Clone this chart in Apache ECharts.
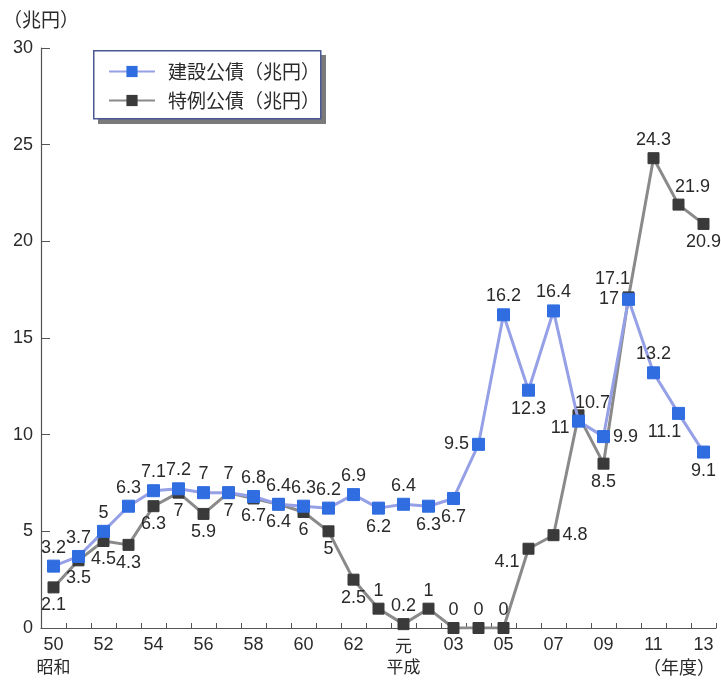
<!DOCTYPE html>
<html>
<head>
<meta charset="utf-8">
<script src="https://cdn.jsdelivr.net/npm/echarts@6/dist/echarts.min.js"></script>
<style>
  html, body { margin: 0; padding: 0; background: #fff; }
  #chart { width: 721px; height: 681px; }
</style>
</head>
<body>
<div id="chart"></div>
<script>
// Fiscal years: Showa 50 through Heisei 13
const years = ['50','51','52','53','54','55','56','57','58','59','60','61','62','63',
               '元','02','03','04','05','06','07','08','09','10','11','12','13'];

// Construction bonds (trillion yen)
const constructionBonds = [3.2, 3.7, 5, 6.3, 7.1, 7.2, 7, 7, 6.8, 6.4, 6.3, 6.2, 6.9, 6.2,
                           6.4, 6.3, 6.7, 9.5, 16.2, 12.3, 16.4, 10.7, 9.9, 17, 13.2, 11.1, 9.1];

// Special deficit-financing bonds (trillion yen)
const specialBonds = [2.1, 3.5, 4.5, 4.3, 6.3, 7, 5.9, 7, 6.7, 6.4, 6, 5, 2.5, 1,
                      0.2, 1, 0, 0, 0, 4.1, 4.8, 11, 8.5, 17.1, 24.3, 21.9, 20.9];

const yTicks = { min: 0, max: 30, step: 5 };

// Label placement for each point
const constructionLabelPos = ['top','top','top','top','top','top','top','top','top','top','top','top','top','bottom',
  'top','bottom','bottom','left','top','bottom','top','topRight','right','left','top','bottomLeft','bottom'];
const specialLabelPos = ['bottom','bottom','bottom','bottom','bottom','bottom','bottom','bottom','bottom','bottom','bottom','bottom','bottom','top',
  'top','top','top','top','top','leftBottom','right','leftBottom','bottom','topLeft','top','topRight','bottom'];

const numFont = '"Liberation Sans", Arial, sans-serif';
const textFont = '"Noto Sans CJK JP", "Noto Sans", sans-serif';

function labelFor(pos) {
  const base = { show: true, fontSize: 18, color: '#2a2a2a', fontFamily: numFont, distance: 3 };
  switch (pos) {
    case 'topRight': return Object.assign(base, { position: 'top', offset: [14, 0] });
    case 'topLeft': return Object.assign(base, { position: 'top', offset: [-16, 0] });
    case 'bottomLeft': return Object.assign(base, { position: 'bottom', offset: [-14, 0] });
    case 'leftBottom': return Object.assign(base, { position: 'left', offset: [0, 13] });
    default: return Object.assign(base, { position: pos });
  }
}

function buildData(values, positions) {
  return values.map((v, i) => ({ value: v, label: labelFor(positions[i]) }));
}

const chart = echarts.init(document.getElementById('chart'), null, { renderer: 'canvas' });

chart.setOption({
  animation: false,
  backgroundColor: '#ffffff',
  grid: { left: 41, right: 5, top: 48, bottom: 53, containLabel: false, outerBoundsMode: 'none' },
  legend: {
    orient: 'vertical',
    left: 108,
    top: 62,
    padding: 0,
    itemGap: 10,
    itemWidth: 46,
    itemHeight: 14,
    z: 10,
    textStyle: { fontSize: 19, color: '#2a2a2a', fontFamily: textFont, padding: [0, 0, 0, 8] },
    data: ['建設公債（兆円）', '特例公債（兆円）']
  },
  xAxis: {
    type: 'category',
    data: years,
    boundaryGap: true,
    axisLine: { lineStyle: { color: '#555', width: 1.2 } },
    axisTick: { show: true, inside: true, length: 5, interval: 0, lineStyle: { color: '#555' } },
    axisLabel: {
      interval: 1,
      fontSize: 18,
      color: '#2a2a2a',
      fontFamily: numFont,
      margin: 7,
      formatter: function (v) {
        if (v === '50') return '50\n{era|昭和}';
        if (v === '元') return '{era|元}\n{era|平成}';
        return v;
      },
      rich: { era: { fontSize: 17, fontFamily: textFont, color: '#2a2a2a', lineHeight: 21 } },
      lineHeight: 21
    },
    splitLine: { show: false }
  },
  yAxis: {
    type: 'value',
    min: yTicks.min,
    max: yTicks.max,
    interval: yTicks.step,
    axisLine: { show: true, lineStyle: { color: '#555', width: 1.2 } },
    axisTick: { show: true, inside: true, length: 9, lineStyle: { color: '#555' } },
    axisLabel: { fontSize: 18, color: '#2a2a2a', fontFamily: numFont, margin: 8 },
    splitLine: { show: false }
  },
  graphic: [
    // legend frame with drop shadow
    {
      type: 'rect', left: 98, top: 55, z: 5,
      shape: { width: 228, height: 69 },
      style: { fill: '#7a7a7a' }
    },
    {
      type: 'rect', left: 93, top: 50, z: 6,
      shape: { width: 227, height: 68 },
      style: { fill: '#ffffff', stroke: '#4a5894', lineWidth: 1.5 }
    },
    // unit of the value axis
    {
      type: 'text',
      left: 3,
      top: 10,
      style: { text: '（兆円）', fontSize: 19, fill: '#2a2a2a', fontFamily: textFont }
    },
    {
      type: 'text',
      right: 6,
      bottom: 5,
      style: { text: '（年度）', fontSize: 18, fill: '#2a2a2a', fontFamily: textFont }
    }
  ],
  series: [
    {
      name: '特例公債（兆円）',
      type: 'line',
      data: buildData(specialBonds, specialLabelPos),
      symbol: 'rect',
      symbolSize: 11,
      lineStyle: { color: '#8a8a8a', width: 3 },
      itemStyle: { color: '#3a3a3a', borderColor: '#3a3a3a' },
      z: 2
    },
    {
      name: '建設公債（兆円）',
      type: 'line',
      data: buildData(constructionBonds, constructionLabelPos),
      symbol: 'rect',
      symbolSize: 12,
      lineStyle: { color: '#95a0e6', width: 3 },
      itemStyle: { color: '#2f6de0', borderColor: '#2f6de0' },
      z: 3
    }
  ]
});
</script>
</body>
</html>
